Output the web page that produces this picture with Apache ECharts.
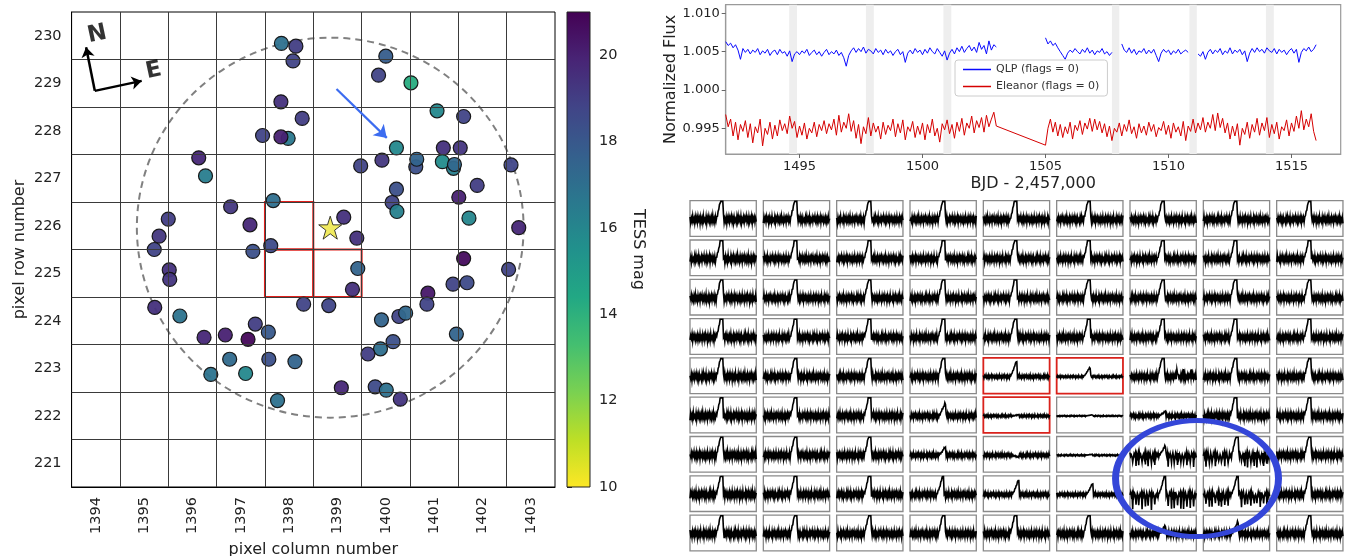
<!DOCTYPE html>
<html><head><meta charset="utf-8">
<script src="https://cdn.jsdelivr.net/npm/echarts@6/dist/echarts.min.js"></script>
<style>html,body{margin:0;padding:0;background:#fff}#c{width:1352px;height:556px}</style>
</head><body><div id="c"></div>
<script>
// ================= DATA =================
// --- left panel: field stars around the target ---
const xTicks = [1394,1395,1396,1397,1398,1399,1400,1401,1402,1403];
const yTicks = [221,222,223,224,225,226,227,228,229,230];
const pixelEdgesX = [1394.5,1395.5,1396.5,1397.5,1398.5,1399.5,1400.5,1401.5,1402.5];
const pixelEdgesY = [221.5,222.5,223.5,224.5,225.5,226.5,227.5,228.5,229.5];
const apertureCells = [[1398,226],[1398,225],[1399,225]];
const targetStar = [1398.85, 225.96];
const apertureRadius = [4.0];
const starCol = [1397.84,1398.14,1398.08,1397.83,1398.27,1397.45,1397.98,1397.83,1396.13,1396.27,1397.67,1396.79,1397.19,1395.50,1395.31,1395.21,1397.25,1397.62,1395.52,1395.53,
1400.00,1399.85,1400.52,1401.06,1401.61,1400.22,1401.19,1401.54,1399.48,1399.92,1400.62,1400.64,1401.40,1401.17,1401.42,1402.59,1401.89,1400.13,1400.22,1400.23,
1401.51,1401.72,1399.13,1399.40,1402.75,1401.61,1399.42,1402.54,1399.31,1398.30,1398.82,1400.87,1400.85,1401.39,1401.68,1399.91,1400.27,1400.41,1401.46,1400.15,
1399.89,1399.63,1399.08,1399.78,1400.01,1400.30,1395.22,1395.74,1396.24,1396.68,1397.15,1397.30,1397.57,1396.77,1397.58,1398.12,1396.38,1397.10,1397.76];
const starRow = [229.84,229.78,229.47,228.61,228.26,227.90,227.84,227.87,227.43,227.05,226.53,226.40,226.02,226.14,225.78,225.50,225.46,225.58,225.07,224.87,
229.57,229.17,229.01,228.42,228.30,227.64,227.64,227.64,227.26,227.38,227.24,227.40,227.21,227.35,227.29,227.28,226.85,226.49,226.77,226.30,
226.60,226.16,226.18,225.74,225.96,225.31,225.10,225.08,224.66,224.35,224.32,224.58,224.35,224.77,224.80,224.02,224.09,224.16,223.72,223.56,
223.41,223.30,222.59,222.61,222.54,222.35,224.28,224.10,223.65,223.70,223.61,223.93,223.76,223.19,223.19,223.14,222.87,222.89,222.32];
const starMag = [16.9,19.0,18.8,19.5,19.0,18.8,16.6,20.0,19.8,16.4,17.0,19.2,19.8,19.0,19.2,18.8,18.3,18.5,19.5,19.3,
17.8,18.8,14.2,15.9,18.8,15.9,19.5,19.3,18.8,19.2,18.3,17.5,16.3,15.7,17.3,18.7,19.0,18.8,18.3,16.2,
20.0,16.0,19.5,19.5,19.8,20.7,17.5,18.8,19.5,18.8,18.7,20.3,18.8,18.8,18.5,17.5,18.8,17.3,17.5,18.3,
17.0,19.0,19.8,18.5,16.9,19.3,19.5,16.8,19.8,20.0,20.8,19.0,18.0,17.2,18.3,17.5,16.8,15.9,16.9];
const motionArrow = [[1398.98, 228.88], [1400.02, 227.85]];
const compassOrigin = [1393.98, 228.84];
const compassNorthTip = [1393.80, 229.76];
const compassEastTip = [1394.95, 229.05];
const compassLabels = [['N', 1394.03, 230.03], ['E', 1395.20, 229.26]];
// --- colour bar ---
const cbTicks = [10,12,14,16,18,20];
const magRange = [10, 21];
const viridis = ['#440154','#482475','#414487','#355f8d','#2a788e','#21918c','#22a884','#44bf70','#7ad151','#bddf26','#fde725'];
// --- light curves ---
const lcTicksX = [1495,1500,1505,1510,1515];
const lcTicksY = [0.995,1.000,1.005,1.010];
const lcStart = 1492.0, lcCadence = 0.1;
const qlpFlux = [
1.0063,1.0058,1.0061,1.0055,1.0059,1.0052,1.0040,1.0054,1.0049,1.0053,
1.0047,1.0052,1.0049,1.0054,1.0046,1.0051,1.0048,1.0053,1.0045,1.0050,
1.0052,1.0046,1.0053,1.0048,1.0050,1.0044,1.0051,1.0037,1.0047,1.0050,
1.0046,1.0051,1.0048,1.0053,1.0045,1.0049,1.0052,1.0046,1.0050,1.0044,
1.0049,1.0053,1.0046,1.0050,1.0047,1.0052,1.0045,1.0049,1.0042,1.0031,
1.0045,1.0051,1.0055,1.0049,1.0054,1.0050,1.0056,1.0048,1.0053,1.0051,
1.0047,1.0054,1.0049,1.0052,1.0046,1.0053,1.0048,1.0051,1.0045,1.0050,
1.0053,1.0046,1.0050,1.0036,1.0048,1.0052,1.0047,1.0054,1.0049,1.0052,
1.0046,1.0053,1.0048,1.0055,1.0050,1.0047,1.0054,1.0049,1.0044,1.0051,
1.0039,1.0048,1.0053,1.0047,1.0055,1.0050,1.0057,1.0049,1.0054,1.0058,
1.0051,1.0056,1.0049,1.0062,1.0053,1.0058,1.0047,1.0064,1.0052,1.0059,
1.0056,
null,null,null,null,null,null,null,null,null,null,null,null,null,null,null,null,null,null,null,
1.0068,1.0060,1.0064,1.0058,1.0061,1.0055,1.0050,1.0045,1.0040,1.0048,
1.0052,1.0049,1.0054,1.0050,1.0047,1.0053,1.0049,1.0055,1.0048,1.0052,
1.0046,1.0051,1.0049,1.0054,1.0047,1.0050,1.0045,1.0049,
null,null,null,
1.0060,1.0052,1.0049,1.0055,1.0048,1.0053,1.0046,1.0051,1.0049,1.0054,
1.0047,1.0052,1.0048,1.0053,1.0045,1.0037,1.0048,1.0053,1.0049,1.0052,
1.0046,1.0051,1.0048,1.0053,1.0047,1.0050,1.0052,1.0049,
null,null,null,
1.0047,1.0044,1.0050,1.0040,1.0049,1.0053,1.0047,1.0052,1.0049,1.0054,
1.0046,1.0051,1.0048,1.0055,1.0047,1.0052,1.0049,1.0053,1.0046,1.0051,
1.0037,1.0048,1.0054,1.0049,1.0055,1.0050,1.0053,1.0048,1.0055,1.0051,
1.0049,1.0054,1.0047,1.0053,1.0049,1.0052,1.0046,1.0051,1.0054,1.0048,
1.0053,1.0036,1.0049,1.0054,1.0051,1.0056,1.0050,1.0053,1.0059];
const eleanorFlux = [
0.9968,0.9952,0.9962,0.9940,0.9958,0.9935,0.9955,0.9946,0.9960,0.9938,
0.9956,0.9931,0.9952,0.9944,0.9962,0.9927,0.9950,0.9942,0.9958,0.9936,
0.9954,0.9940,0.9961,0.9947,0.9956,0.9943,0.9966,0.9950,0.9959,0.9938,
0.9953,0.9941,0.9957,0.9936,0.9950,0.9944,0.9958,0.9939,0.9955,0.9947,
0.9960,0.9943,0.9956,0.9948,0.9962,0.9941,0.9967,0.9945,0.9958,0.9950,
0.9969,0.9946,0.9960,0.9937,0.9955,0.9930,0.9952,0.9943,0.9964,0.9940,
0.9957,0.9945,0.9953,0.9936,0.9958,0.9942,0.9954,0.9947,0.9962,0.9939,
0.9956,0.9944,0.9961,0.9935,0.9952,0.9946,0.9959,0.9938,0.9953,0.9942,
0.9957,0.9935,0.9955,0.9944,0.9962,0.9940,0.9950,0.9932,0.9956,0.9948,
0.9961,0.9943,0.9955,0.9937,0.9958,0.9946,0.9963,0.9941,0.9957,0.9950,
0.9966,0.9944,0.9960,0.9951,0.9964,0.9945,0.9967,0.9952,0.9962,0.9971,
0.9953,
null,null,null,null,null,null,null,null,null,null,null,null,null,null,null,null,null,null,null,
0.9928,0.9950,0.9962,0.9945,0.9958,0.9940,0.9955,0.9938,0.9952,0.9943,
0.9958,0.9936,0.9954,0.9947,0.9960,0.9942,0.9957,0.9949,0.9963,0.9946,
0.9962,0.9948,0.9959,0.9944,0.9956,0.9939,0.9953,0.9934,0.9950,0.9945,
0.9957,0.9940,0.9955,0.9946,0.9961,0.9943,0.9952,0.9937,0.9956,0.9944,
0.9953,0.9941,0.9958,0.9946,0.9955,0.9939,0.9951,0.9947,0.9959,0.9942,
0.9954,0.9937,0.9957,0.9945,0.9952,0.9940,0.9959,0.9934,0.9953,0.9946,
0.9962,0.9944,0.9957,0.9948,0.9964,0.9945,0.9958,0.9950,0.9968,0.9947,
0.9970,0.9951,0.9963,0.9944,0.9957,0.9936,0.9953,0.9940,0.9956,0.9928,
0.9950,0.9942,0.9958,0.9937,0.9955,0.9945,0.9963,0.9941,0.9957,0.9947,
0.9964,0.9938,0.9955,0.9943,0.9958,0.9936,0.9952,0.9947,0.9961,0.9940,
0.9957,0.9946,0.9966,0.9950,0.9973,0.9948,0.9962,0.9952,0.9969,0.9946,
0.9934];
const momentumDumps = [[1494.58,1494.90],[1497.70,1498.02],[1500.85,1501.17],[1507.70,1508.00],[1510.85,1511.15],[1513.96,1514.28]];
// --- per-pixel thumbnail light curves (9 x 9) ---
const thumbSpike = [
[1.6,1.6,1.6,1.6,1.6,1.6,1.6,1.6,1.6],
[1.6,1.6,1.6,1.6,1.6,1.6,1.6,1.6,1.6],
[1.6,1.6,1.6,1.6,1.6,1.6,1.6,1.6,1.6],
[1.6,1.6,1.6,1.6,1.6,1.6,1.6,1.6,1.6],
[1.6,1.6,1.6,1.6,0.85,0.5,1.6,1.6,1.6],
[1.6,1.6,1.6,0.7,0.06,0.06,0.25,1.6,1.6],
[1.6,1.6,1.6,0.45,-0.1,0.05,0.5,1.6,1.6],
[1.6,1.6,1.6,1.1,0.8,0.6,1.2,1.2,1.6],
[1.6,1.6,1.6,1.6,1.6,1.6,0.45,0.65,1.6]];
const thumbShift = [
[0,1,2,3,1,1,2,1,2],
[0,1,2,3,1,1,2,1,2],
[0,1,2,3,1,1,2,1,2],
[0,1,2,3,1,1,2,1,2],
[0,1,2,3,1,1,2,1,2],
[0,1,2,4,4,4,4,1,2],
[0,1,2,4,4,4,4,3,2],
[0,1,2,1,4,5,4,3,2],
[0,1,2,3,1,1,4,3,2]];
const thumbNoise = [
[0.24,0.22,0.22,0.22,0.22,0.22,0.22,0.22,0.22],
[0.24,0.22,0.22,0.22,0.22,0.22,0.22,0.22,0.22],
[0.24,0.22,0.22,0.22,0.22,0.22,0.22,0.22,0.22],
[0.24,0.22,0.22,0.22,0.22,0.22,0.22,0.22,0.22],
[0.24,0.22,0.22,0.22,0.12,0.08,0.20,0.22,0.22],
[0.24,0.22,0.22,0.18,0.09,0.04,0.14,0.22,0.22],
[0.24,0.22,0.22,0.16,0.13,0.05,0.16,0.20,0.22],
[0.24,0.22,0.22,0.20,0.14,0.12,0.16,0.16,0.22],
[0.24,0.22,0.22,0.22,0.22,0.22,0.20,0.20,0.22]];
const thumbDip = [
[0,0,0,0,0,0,0,0,0],[0,0,0,0,0,0,0,0,0],[0,0,0,0,0,0,0,0,0],[0,0,0,0,0,0,0,0,0],
[0,0,0,0,0,0,0,0,0],[0,0,0,0,0,0,0,0,0],[0,0,0,0,0,0,0.5,0.5,0],[0,0,0,0,0,0,0.7,0.6,0],[0,0,0,0,0,0,0,0,0]];
const thumbBump = [
[0,0,0,0,0,0,0,0,0],[0,0,0,0,0,0,0,0,0],[0,0,0,0,0,0,0,0,0],[0,0,0,0,0,0,0,0,0],
[0,0,0,0,0,0,0.35,0,0],[0,0,0,0,0,0,0,0,0],[0,0,0,0,0,0,0,0,0],[0,0,0,0,0,0,0,0,0],[0,0,0,0,0,0,0,0,0]];
const thumbRedCells = [[4,4],[4,5],[5,4]];
const noiseProfile = [0.6,-0.8,0.3,-0.5,0.9,-0.4,0.2,-0.9,0.7,-0.3,
0.5,-0.7,0.8,-0.2,0.4,-1.0,0.6,-0.5,0.3,-0.8,
0.9,-0.4,0.1,-0.6,0.7,-0.9,0.5,-0.2,0.8,-0.6,
0.3,-0.7,0.6,-0.4,1.0,-0.5,0.2,-0.8,0.7,-0.3,
0.4,-0.9,0.6,-0.1,0.8,-0.6,0.3,-0.7,0.5,-0.4,
0.9,-0.8,0.2,-0.5,0.6,-1.0,0.4,-0.3,0.7,-0.6,
0.5,-0.2,0.8,-0.7,0.3,-0.9,0.6,-0.4,0.1,-0.8,
0.7,-0.5,0.9,-0.3,0.4,-0.6,0.8,-0.9,0.2,-0.4,
0.6,-0.7,0.5,-0.1,0.9,-0.5,0.3,-0.8,0.7,-0.6,
0.4,-0.3,0.8,-0.9,0.5,-0.2,0.6,-0.7,0.3,-0.5];
const spikeShape = [0.08,0.16,0.26,0.36,0.48,0.6,0.72,0.86,1.0,0.97,0.05];
const spikeStartIdx = 40;
const dipIndex = [4,9,13,18,23,27,32,37,57,62,66,71,76,80,85,90,95];
const bumpIndex = [70,71,80,92];
const highlightRing = [6.914, 7.069, 1.111, 1.476];
// ================= CHART =================
const FONT = 'DejaVu Sans';
const thumbBoxW = 0.904, thumbBoxH = 0.908;
const chart = echarts.init(document.getElementById('c'), null, {renderer:'canvas'});

const starData = starCol.map((x,i)=>[x, starRow[i], starMag[i]]);
const lcTime = qlpFlux.map((_,i)=>+(lcStart + i*lcCadence).toFixed(2));
const qlpData = qlpFlux.map((f,i)=>[lcTime[i], f]);
const eleanorData = eleanorFlux.map((f,i)=>[lcTime[i], f]);
const thumbData = [];
for (let r=0;r<9;r++) for (let c=0;c<9;c++) thumbData.push([c, r]);

function ellipseItem(api, x, y, rx, ry, style){
  const ctr = api.coord([x, y]);
  const px = Math.abs(api.size([rx, 0])[0]);
  const py = Math.abs(api.size([0, ry])[1]);
  return {type:'circle', x:ctr[0], y:ctr[1], shape:{cx:0, cy:0, r:px}, scaleX:1, scaleY:py/px,
          style:Object.assign({fill:null, strokeNoScale:true}, style)};
}

function renderThumb(params, api){
  const c = api.value(0), r = api.value(1);
  const tl = api.coord([c, r]);
  const br = api.coord([c + thumbBoxW, r + thumbBoxH]);
  const n = noiseProfile.length;
  const off = ((r*9 + c)*7) % n;
  const start = spikeStartIdx + thumbShift[r][c];
  const pts = [];
  for (let i=0;i<n;i++){
    const k = i - start;
    const s = (k>=0 && k<spikeShape.length) ? spikeShape[k] : 0;
    let v = -0.05 + thumbNoise[r][c]*noiseProfile[(i+off)%n]*(s>0.05?0.35:1) + thumbSpike[r][c]*s;
    if (thumbDip[r][c] && dipIndex.indexOf(i)>=0) v -= thumbDip[r][c];
    if (thumbBump[r][c] && bumpIndex.indexOf(i)>=0) v += thumbBump[r][c];
    v = Math.max(-0.94, Math.min(0.96, v));
    pts.push(api.coord([c + thumbBoxW*i/(n-1), r + thumbBoxH*(1-v)/2]));
  }
  const red = thumbRedCells.some(p=>p[0]===r && p[1]===c);
  return {type:'group', children:[
    {type:'rect', shape:{x:tl[0], y:tl[1], width:br[0]-tl[0], height:br[1]-tl[1]},
     style:{fill:'#fff', stroke: red?'#d9221c':'#8a8a8a', lineWidth: red?1.8:1.3}},
    {type:'polyline', shape:{points:pts}, style:{fill:null, stroke:'#000', lineWidth:1.6, lineJoin:'miter'}, z2:2}
  ]};
}
const plainNum = v => String(v);

const option = {
  animation:false,
  backgroundColor:'#fff',
  textStyle:{fontFamily:FONT},
  grid:[
    {left:71.6, top:12, width:483.4, height:475, show:true, borderColor:'#000', borderWidth:1, backgroundColor:'transparent', outerBoundsMode:'none'},
    {left:567, top:12, width:23, height:475, show:false, outerBoundsMode:'none'},
    {left:725.7, top:4.7, width:615, height:149.3, show:true, borderColor:'#9a9a9a', borderWidth:1.2, outerBoundsMode:'none'},
    {left:690, top:200.7, width:660, height:353.7, show:false, outerBoundsMode:'none'}
  ],
  xAxis:[
    {gridIndex:0, type:'value', min:1393.5, max:1403.5, splitLine:{show:false}, axisTick:{show:false},
     axisLine:{show:true, lineStyle:{color:'#000', width:1}},
     axisLabel:{customValues:xTicks, formatter:plainNum, rotate:90, fontSize:14.5, color:'#222', margin:10, fontFamily:FONT},
     name:'pixel column number', nameLocation:'middle', nameGap:50, nameTextStyle:{fontSize:16, color:'#222', fontFamily:FONT}},
    {gridIndex:1, type:'value', min:0, max:1, show:false},
    {gridIndex:2, type:'value', min:1492, max:1517, splitLine:{show:false},
     axisLine:{show:true, lineStyle:{color:'#9a9a9a', width:1.2}},
     axisTick:{customValues:lcTicksX, length:4, lineStyle:{color:'#666'}},
     axisLabel:{customValues:lcTicksX, formatter:plainNum, fontSize:13, color:'#222', margin:6, fontFamily:FONT},
     name:'BJD - 2,457,000', nameLocation:'middle', nameGap:22, nameTextStyle:{fontSize:16, color:'#222', fontFamily:FONT}},
    {gridIndex:3, type:'value', min:0, max:9, show:false}
  ],
  yAxis:[
    {gridIndex:0, type:'value', min:220.5, max:230.5, splitLine:{show:false}, axisTick:{show:false},
     axisLine:{show:true, lineStyle:{color:'#000', width:1}},
     axisLabel:{customValues:yTicks, formatter:plainNum, fontSize:14.5, color:'#222', margin:10, fontFamily:FONT},
     name:'pixel row number', nameLocation:'middle', nameGap:44, nameRotate:90, nameTextStyle:{fontSize:16, color:'#222', fontFamily:FONT}},
    {gridIndex:1, type:'value', min:magRange[0], max:magRange[1], position:'right', splitLine:{show:false},
     axisLine:{show:false},
     axisTick:{customValues:cbTicks, length:5, lineStyle:{color:'#222'}},
     axisLabel:{customValues:cbTicks, formatter:plainNum, fontSize:14.5, color:'#222', margin:9, fontFamily:FONT},
     name:'TESS mag', nameLocation:'middle', nameGap:40, nameRotate:-90, nameTextStyle:{fontSize:16, color:'#222', fontFamily:FONT}},
    {gridIndex:2, type:'value', min:0.99165, max:1.01112, splitLine:{show:false},
     axisLine:{show:true, lineStyle:{color:'#9a9a9a', width:1.2}},
     axisTick:{show:true, customValues:lcTicksY, length:4, lineStyle:{color:'#666'}},
     axisLabel:{customValues:lcTicksY, formatter:v=>Number(v).toFixed(3), fontSize:13, color:'#222', margin:6, fontFamily:FONT},
     name:'Normalized Flux', nameLocation:'middle', nameGap:46, nameRotate:90, nameTextStyle:{fontSize:16, color:'#222', fontFamily:FONT}},
    {gridIndex:3, type:'value', min:0, max:9, inverse:true, show:false}
  ],
  visualMap:[{type:'continuous', show:false, min:magRange[0], max:magRange[1], dimension:2, seriesIndex:2,
    inRange:{color:viridis.slice().reverse()}}],
  legend:{data:['QLP (flags = 0)','Eleanor (flags = 0)'], left:955, top:60, orient:'vertical', icon:'rect',
    itemWidth:28, itemHeight:1.5, itemGap:6, padding:[4,8], borderColor:'#cccccc', borderWidth:1, borderRadius:3,
    backgroundColor:'rgba(255,255,255,0.85)', textStyle:{fontSize:11, color:'#333', fontFamily:FONT}, z:20},
  series:[
    // 0: pixel boundaries + aperture
    {type:'line', xAxisIndex:0, yAxisIndex:0, data:[targetStar], symbol:'none', lineStyle:{width:0}, silent:true, z:1,
     markLine:{silent:true, symbol:'none', label:{show:false}, animation:false,
       lineStyle:{color:'#3a3a3a', width:1, type:'solid'},
       data: pixelEdgesX.map(v=>({xAxis:v})).concat(pixelEdgesY.map(v=>({yAxis:v})))},
     markArea:{silent:true, itemStyle:{color:'rgba(0,0,0,0)', borderColor:'#e0201b', borderWidth:2},
       data: apertureCells.map(p=>[{coord:[p[0]-0.5, p[1]+0.5]},{coord:[p[0]+0.5, p[1]-0.5]}])}},
    // 1: dashed aperture circle
    {type:'custom', xAxisIndex:0, yAxisIndex:0, z:2, silent:true,
     data:[[targetStar[0], targetStar[1], apertureRadius[0]]],
     renderItem:(p,api)=>ellipseItem(api, api.value(0), api.value(1), api.value(2), api.value(2),
        {stroke:'#808080', lineWidth:2, lineDash:[7,5]})},
    // 2: field stars
    {type:'scatter', xAxisIndex:0, yAxisIndex:0, data:starData, symbol:'circle', symbolSize:14, z:3,
     itemStyle:{borderColor:'#111', borderWidth:1.2, opacity:0.95}},
    // 3: target
    {type:'scatter', xAxisIndex:0, yAxisIndex:0, data:[targetStar], z:4,
     symbol:'path://M50,2 L61,36 L97,36 L68,57 L79,92 L50,71 L21,92 L32,57 L3,36 L39,36 Z', symbolSize:23,
     itemStyle:{color:'#ede63a', borderColor:'#111', borderWidth:1}},
    // 4: motion arrow
    {type:'lines', coordinateSystem:'cartesian2d', xAxisIndex:0, yAxisIndex:0, z:5,
     symbol:['none','arrow'], symbolSize:12,
     lineStyle:{color:'#3c6cf0', width:2.2, opacity:1}, data:[{coords:motionArrow}]},
    // 5: compass
    {type:'lines', coordinateSystem:'cartesian2d', xAxisIndex:0, yAxisIndex:0, z:5,
     symbol:['none','arrow'], symbolSize:10,
     lineStyle:{color:'#000', width:2.5, opacity:1},
     data:[{coords:[compassOrigin, compassNorthTip]},{coords:[compassOrigin, compassEastTip]}]},
    // 6: compass letters
    {type:'scatter', xAxisIndex:0, yAxisIndex:0, z:6, symbolSize:1, itemStyle:{color:'rgba(0,0,0,0)'},
     data: compassLabels.map(l=>({name:l[0], value:[l[1], l[2]]})),
     label:{show:true, position:'inside', formatter:'{b}', fontSize:23, fontWeight:'bold', color:'#000', rotate:12, fontFamily:FONT}},
    // 7: colour bar
    {type:'custom', xAxisIndex:1, yAxisIndex:1, silent:true, data:[[0, magRange[0], 1, magRange[1]]],
     renderItem:(p,api)=>{
       const a = api.coord([api.value(0), api.value(1)]);
       const b = api.coord([api.value(2), api.value(3)]);
       return {type:'rect', shape:{x:a[0], y:b[1], width:b[0]-a[0], height:a[1]-b[1]},
         style:{fill:new echarts.graphic.LinearGradient(0,0,0,1, viridis.map((col,i)=>({offset:i/(viridis.length-1), color:col}))),
                stroke:'#222', lineWidth:1}};
     }},
    // 8: QLP
    {name:'QLP (flags = 0)', type:'line', xAxisIndex:2, yAxisIndex:2, data:qlpData, showSymbol:false, symbol:'none',
     connectNulls:false, lineStyle:{color:'#0a0aff', width:1}, itemStyle:{color:'#0a0aff'}, z:3,
     markArea:{silent:true, itemStyle:{color:'#eeeeee'}, data: momentumDumps.map(g=>[{xAxis:g[0]},{xAxis:g[1]}])}},
    // 9: Eleanor
    {name:'Eleanor (flags = 0)', type:'line', xAxisIndex:2, yAxisIndex:2, data:eleanorData, showSymbol:false, symbol:'none',
     connectNulls:true, lineStyle:{color:'#d50000', width:1}, itemStyle:{color:'#d50000'}, z:3},
    // 10: thumbnails
    {type:'custom', xAxisIndex:3, yAxisIndex:3, data:thumbData, silent:true, renderItem:renderThumb, z:2},
    // 11: highlight ring
    {type:'custom', xAxisIndex:3, yAxisIndex:3, data:[highlightRing], silent:true, z:10,
     renderItem:(p,api)=>ellipseItem(api, api.value(0), api.value(1), api.value(2), api.value(3),
        {stroke:'#3446d8', lineWidth:7})}
  ]
};
chart.setOption(option);
</script></body></html>
